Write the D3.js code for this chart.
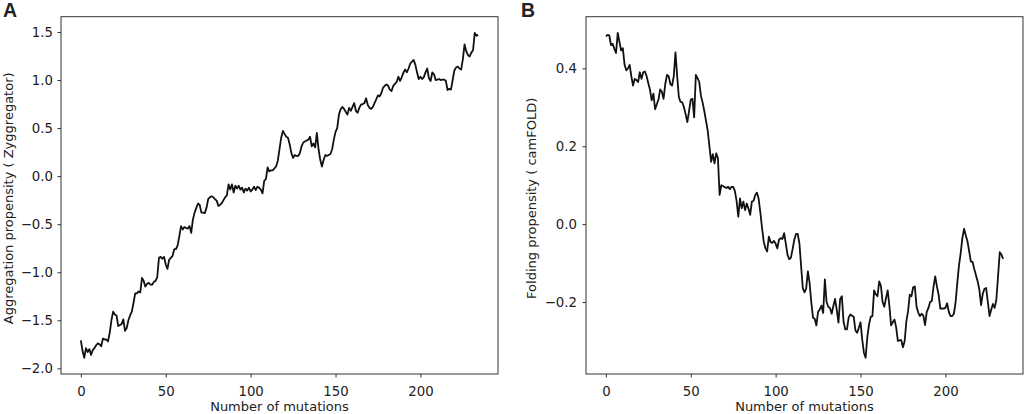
<!DOCTYPE html>
<html>
<head>
<meta charset="utf-8">
<script src="https://cdn.jsdelivr.net/npm/d3@7"></script>
<style>
  body { margin: 0; background: #fff; }
  svg { display: block; }
  text { font-family: "DejaVu Sans", sans-serif; fill: #222; }
</style>
</head>
<body>
<svg id="chart" width="1024" height="414"></svg>
<script>
// number of mutations (x) is just the index 0..234
var xTicks = [0, 50, 100, 150, 200];
var aggTicks = [-2.0, -1.5, -1.0, -0.5, 0.0, 0.5, 1.0, 1.5];
var foldTicks = [-0.2, 0.0, 0.2, 0.4];

// panel A: aggregation propensity (Zyggregator)
var aggregation = [
  -1.71, -1.82, -1.89, -1.79, -1.83, -1.80, -1.86, -1.81, -1.79, -1.76,
  -1.74, -1.75, -1.77, -1.69, -1.70, -1.70, -1.72, -1.63, -1.50, -1.41,
  -1.44, -1.45, -1.56, -1.55, -1.54, -1.49, -1.61, -1.58, -1.50, -1.45,
  -1.41, -1.32, -1.22, -1.22, -1.20, -1.21, -1.06, -1.09, -1.15, -1.12,
  -1.11, -1.13, -1.13, -1.10, -1.09, -1.05, -0.85, -0.84, -0.86, -0.84,
  -0.92, -0.965, -0.87, -0.85, -0.83, -0.76, -0.76, -0.72, -0.625, -0.52,
  -0.555, -0.53, -0.54, -0.545, -0.52, -0.59, -0.45, -0.38, -0.33, -0.285,
  -0.30, -0.38, -0.38, -0.385, -0.33, -0.24, -0.22, -0.21, -0.22, -0.24,
  -0.255, -0.31, -0.30, -0.28, -0.25, -0.22, -0.20, -0.086, -0.14, -0.086,
  -0.17, -0.10, -0.13, -0.10, -0.14, -0.12, -0.17, -0.13, -0.15, -0.12,
  -0.16, -0.14, -0.11, -0.145, -0.11, -0.12, -0.14, -0.18, -0.05, -0.03,
  0.09, 0.05, 0.06, 0.06, 0.08, 0.10, 0.16, 0.28, 0.40, 0.47,
  0.44, 0.41, 0.40, 0.33, 0.24, 0.19, 0.22, 0.21, 0.21, 0.24,
  0.31, 0.35, 0.36, 0.37, 0.38, 0.41, 0.31, 0.34, 0.30, 0.45,
  0.28, 0.17, 0.10, 0.17, 0.22, 0.21, 0.22, 0.23, 0.28, 0.38,
  0.46, 0.50, 0.64, 0.695, 0.72, 0.70, 0.67, 0.64, 0.71, 0.68,
  0.72, 0.76, 0.68, 0.66, 0.71, 0.745, 0.75, 0.76, 0.81, 0.74,
  0.71, 0.70, 0.72, 0.76, 0.80, 0.84, 0.83, 0.865, 0.92, 0.94,
  0.955, 0.94, 0.90, 0.885, 0.94, 0.96, 0.98, 1.035, 0.99, 1.03,
  1.077, 1.11, 1.08, 1.12, 1.17, 1.19, 1.21, 1.16, 1.08, 1.01,
  1.035, 1.01, 1.03, 1.08, 1.12, 1.02, 0.99, 1.08, 1.06, 1.00,
  1.005, 1.01, 1.00, 1.005, 1.005, 0.99, 0.895, 0.91, 0.90, 1.00,
  1.10, 1.13, 1.14, 1.12, 1.11, 1.215, 1.37, 1.30, 1.26, 1.245,
  1.285, 1.31, 1.49, 1.46, 1.47
];

// panel B: folding propensity (camFOLD)
var folding = [
  0.482, 0.486, 0.485, 0.460, 0.463, 0.450, 0.440, 0.491, 0.468, 0.446,
  0.452, 0.410, 0.395, 0.400, 0.409, 0.380, 0.356, 0.373, 0.370, 0.365,
  0.390, 0.373, 0.390, 0.392, 0.380, 0.362, 0.345, 0.318, 0.335, 0.295,
  0.308, 0.320, 0.346, 0.340, 0.322, 0.360, 0.383, 0.380, 0.360, 0.356,
  0.380, 0.441, 0.380, 0.326, 0.314, 0.313, 0.300, 0.282, 0.262, 0.290,
  0.320, 0.322, 0.274, 0.383, 0.375, 0.365, 0.330, 0.312, 0.290, 0.265,
  0.240, 0.200, 0.160, 0.180, 0.156, 0.182, 0.170, 0.075, 0.100, 0.098,
  0.095, 0.093, 0.096, 0.090, 0.096, 0.096, 0.085, 0.060, 0.019, 0.066,
  0.041, 0.058, 0.036, 0.053, 0.040, 0.024, 0.058, 0.060, 0.075, 0.081,
  0.065, 0.030, -0.010, -0.045, -0.062, -0.070, -0.032, -0.046, -0.048, -0.043,
  -0.050, -0.062, -0.040, -0.036, -0.038, -0.023, -0.050, -0.079, -0.090, -0.086,
  -0.064, -0.040, -0.025, -0.025, -0.049, -0.108, -0.164, -0.175, -0.165, -0.121,
  -0.151, -0.200, -0.240, -0.243, -0.260, -0.225, -0.219, -0.209, -0.228, -0.142,
  -0.200, -0.212, -0.215, -0.230, -0.210, -0.192, -0.220, -0.253, -0.192, -0.185,
  -0.250, -0.270, -0.270, -0.240, -0.232, -0.235, -0.238, -0.273, -0.279, -0.266,
  -0.252, -0.296, -0.330, -0.343, -0.290, -0.258, -0.238, -0.236, -0.170, -0.180,
  -0.185, -0.147, -0.158, -0.200, -0.212, -0.190, -0.170, -0.210, -0.260, -0.252,
  -0.245, -0.265, -0.300, -0.298, -0.298, -0.316, -0.300, -0.249, -0.224, -0.181,
  -0.185, -0.162, -0.160, -0.212, -0.227, -0.236, -0.230, -0.235, -0.259, -0.225,
  -0.215, -0.200, -0.197, -0.160, -0.134, -0.160, -0.181, -0.217, -0.216, -0.217,
  -0.215, -0.203, -0.225, -0.236, -0.236, -0.230, -0.200, -0.150, -0.106, -0.074,
  -0.035, -0.012, -0.029, -0.044, -0.070, -0.096, -0.097, -0.115, -0.131, -0.147,
  -0.168, -0.208, -0.179, -0.166, -0.164, -0.200, -0.236, -0.219, -0.205, -0.215,
  -0.194, -0.134, -0.072, -0.078, -0.089
];

var svg = d3.select("#chart");

// matplotlib style autoscale: data range plus 5% each side
function padded(ext) {
  var m = (ext[1] - ext[0]) * 0.05;
  return [ext[0] - m, ext[1] + m];
}

function drawPanel(opts) {
  var g = svg.append("g");
  var data = opts.values.map(function(v, i) { return [i, v]; });

  var x = d3.scaleLinear()
    .domain(padded([0, data.length - 1]))
    .range([opts.left, opts.right]);
  var y = d3.scaleLinear()
    .domain(padded(d3.extent(opts.values)))
    .range([opts.bottom, opts.top]);

  var xAxis = g.append("g")
    .attr("transform", "translate(0," + opts.bottom + ")")
    .call(d3.axisBottom(x).tickValues(xTicks).tickFormat(d3.format("d"))
      .tickSize(3.5).tickPadding(9));
  var yAxis = g.append("g")
    .attr("transform", "translate(" + opts.left + ",0)")
    .call(d3.axisLeft(y).tickValues(opts.ticks).tickFormat(d3.format(".1f"))
      .tickSize(3.5).tickPadding(opts.ypad));

  [xAxis, yAxis].forEach(function(a) {
    a.select(".domain").remove();
    a.selectAll("line").attr("stroke", "#333").attr("stroke-width", 1);
    a.selectAll("text")
      .attr("fill", "#222")
      .style("font-family", "'DejaVu Sans', sans-serif")
      .style("font-size", "13.3px");
  });

  g.append("path")
    .datum(data)
    .attr("fill", "none")
    .attr("stroke", "#111")
    .attr("stroke-width", 1.8)
    .attr("stroke-linejoin", "round")
    .attr("d", d3.line().x(function(d) { return x(d[0]); }).y(function(d) { return y(d[1]); }));

  // spines
  g.append("rect")
    .attr("x", opts.left)
    .attr("y", opts.top)
    .attr("width", opts.right - opts.left)
    .attr("height", opts.bottom - opts.top)
    .attr("fill", "none")
    .attr("stroke", "#333")
    .attr("stroke-width", 1);

  g.append("text")
    .attr("x", (opts.left + opts.right) / 2)
    .attr("y", 411)
    .attr("text-anchor", "middle")
    .style("font-size", "13px")
    .text("Number of mutations");

  g.append("text")
    .attr("transform", "translate(" + opts.ylabelX + "," + ((opts.top + opts.bottom) / 2 + 3) + ") rotate(-90)")
    .attr("text-anchor", "middle")
    .attr("dy", "0.35em")
    .style("font-size", "13px")
    .text(opts.ylabel);

  g.append("text")
    .attr("x", opts.letterX)
    .attr("y", 16.5)
    .style("font-family", "'Liberation Sans', Arial, sans-serif")
    .style("font-weight", "bold")
    .style("font-size", "19.5px")
    .attr("fill", "#111")
    .text(opts.letter);
}

drawPanel({
  values: aggregation, ticks: aggTicks,
  left: 61, right: 498, top: 16.7, bottom: 374, ypad: 4.5,
  ylabel: "Aggregation propensity ( Zyggregator)", ylabelX: 8,
  letter: "A", letterX: 3
});

drawPanel({
  values: folding, ticks: foldTicks,
  left: 586, right: 1023, top: 16.7, bottom: 374, ypad: 5.5,
  ylabel: "Folding propensity ( camFOLD)", ylabelX: 531,
  letter: "B", letterX: 521
});
</script>
</body>
</html>
